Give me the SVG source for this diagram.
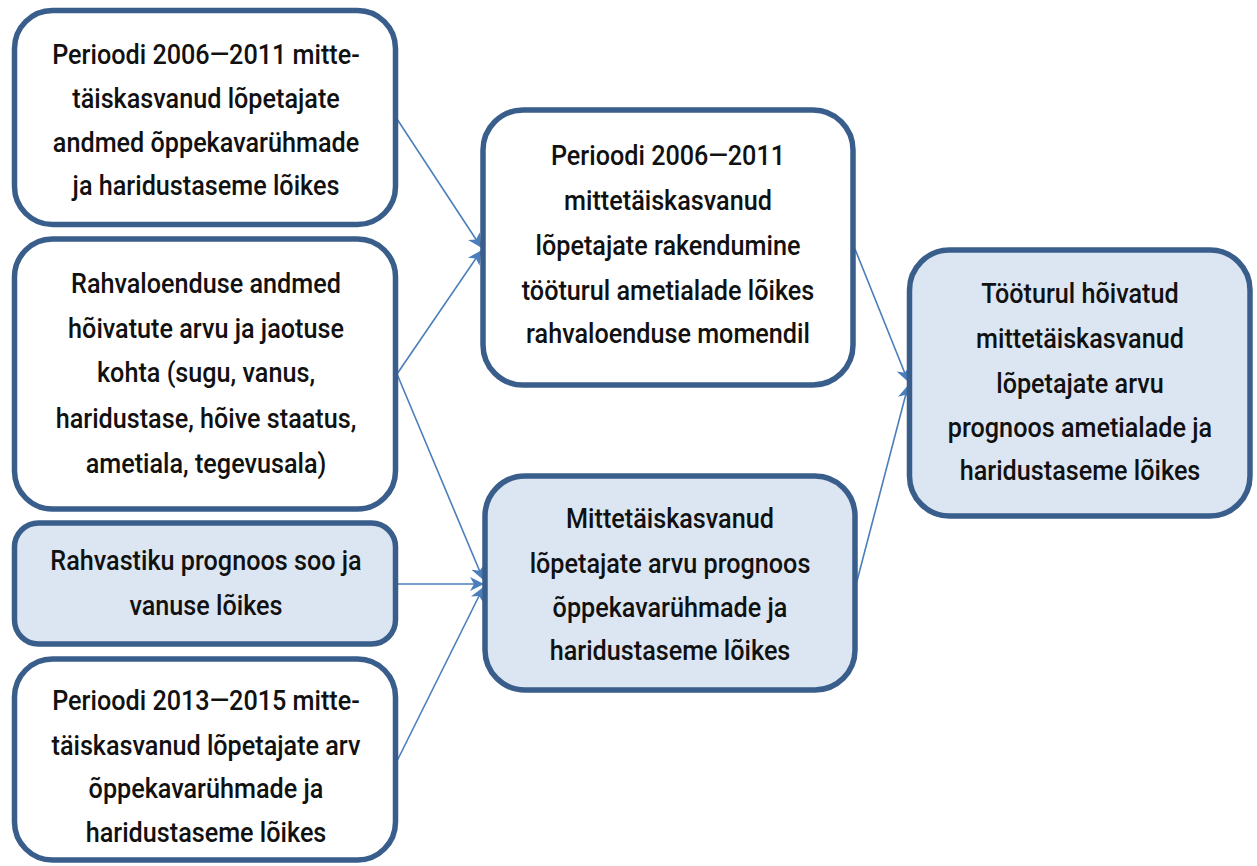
<svg xmlns="http://www.w3.org/2000/svg" width="1257" height="866" viewBox="0 0 1257 866">
<defs>
<style>
.box{stroke:#3A5E8C;stroke-width:5.5;}
.w{fill:#FFFFFF;}
.b{fill:#DCE6F2;}
.t{font-family:Roboto,"Liberation Sans",sans-serif;font-size:28px;font-weight:500;fill:#111;text-anchor:middle;}
.c{stroke:#4A7EBB;stroke-width:1.6;fill:none;marker-end:url(#ah);}
</style>
<marker id="ah" viewBox="0 0 14 14" refX="13" refY="7" markerWidth="14" markerHeight="14" markerUnits="userSpaceOnUse" orient="auto">
<path d="M0,0 L14,7 L0,14 L4,7 Z" fill="#4A7EBB"/>
</marker>
</defs>
<rect width="1257" height="866" fill="#FFFFFF"/>
<g id="connectors">
<line class="c" x1="397" y1="119" x2="481" y2="247"/>
<line class="c" x1="397" y1="374" x2="481" y2="251"/>
<line class="c" x1="397" y1="374" x2="483" y2="579"/>
<line class="c" x1="397" y1="584" x2="483" y2="584"/>
<line class="c" x1="397" y1="761" x2="483" y2="588"/>
<line class="c" x1="855" y1="249" x2="908" y2="381"/>
<line class="c" x1="857" y1="581" x2="908" y2="386"/>
</g>
<g id="n1">
<rect class="box w" x="14.5" y="10.5" width="381" height="214" rx="38"/>
<g transform="translate(206,0) scale(0.9,1)">
<text class="t" x="0" y="64">Perioodi 2006—2011 mitte-</text>
<text class="t" x="0" y="108">täiskasvanud lõpetajate</text>
<text class="t" x="0" y="152">andmed õppekavarühmade</text>
<text class="t" x="0" y="195">ja haridustaseme lõikes</text>
</g>
</g>
<g id="n2">
<rect class="box w" x="14.5" y="239" width="381" height="270" rx="38"/>
<g transform="translate(206,0) scale(0.9,1)">
<text class="t" x="0" y="293">Rahvaloenduse andmed</text>
<text class="t" x="0" y="338">hõivatute arvu ja jaotuse</text>
<text class="t" x="0" y="382">kohta (sugu, vanus,</text>
<text class="t" x="0" y="428">haridustase, hõive staatus,</text>
<text class="t" x="0" y="473">ametiala, tegevusala)</text>
</g>
</g>
<g id="n3">
<rect class="box b" x="14.5" y="523" width="381" height="121" rx="24"/>
<g transform="translate(206,0) scale(0.9,1)">
<text class="t" x="0" y="570">Rahvastiku prognoos soo ja</text>
<text class="t" x="0" y="615">vanuse lõikes</text>
</g>
</g>
<g id="n4">
<rect class="box w" x="14.5" y="659" width="381" height="201" rx="38"/>
<g transform="translate(206,0) scale(0.9,1)">
<text class="t" x="0" y="710">Perioodi 2013—2015 mitte-</text>
<text class="t" x="0" y="755">täiskasvanud lõpetajate arv</text>
<text class="t" x="0" y="798">õppekavarühmade ja</text>
<text class="t" x="0" y="842">haridustaseme lõikes</text>
</g>
</g>
<g id="n5">
<rect class="box w" x="483" y="110" width="370" height="275" rx="40"/>
<g transform="translate(668,0) scale(0.9,1)">
<text class="t" x="0" y="165">Perioodi 2006—2011</text>
<text class="t" x="0" y="210">mittetäiskasvanud</text>
<text class="t" x="0" y="255">lõpetajate rakendumine</text>
<text class="t" x="0" y="300">tööturul ametialade lõikes</text>
<text class="t" x="0" y="343">rahvaloenduse momendil</text>
</g>
</g>
<g id="n6">
<rect class="box b" x="485" y="476" width="370" height="214" rx="40"/>
<g transform="translate(670,0) scale(0.9,1)">
<text class="t" x="0" y="528">Mittetäiskasvanud</text>
<text class="t" x="0" y="573">lõpetajate arvu prognoos</text>
<text class="t" x="0" y="617">õppekavarühmade ja</text>
<text class="t" x="0" y="660">haridustaseme lõikes</text>
</g>
</g>
<g id="n7">
<rect class="box b" x="909.5" y="250" width="340.5" height="266" rx="40"/>
<g transform="translate(1080,0) scale(0.9,1)">
<text class="t" x="0" y="303">Tööturul hõivatud</text>
<text class="t" x="0" y="348">mittetäiskasvanud</text>
<text class="t" x="0" y="393">lõpetajate arvu</text>
<text class="t" x="0" y="437">prognoos ametialade ja</text>
<text class="t" x="0" y="480">haridustaseme lõikes</text>
</g>
</g>
</svg>
